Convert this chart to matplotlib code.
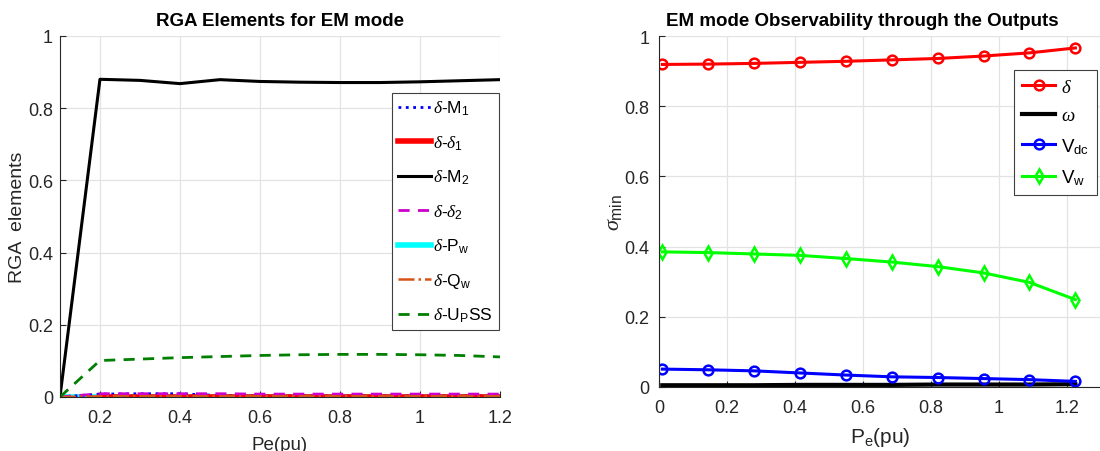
import matplotlib
matplotlib.use("Agg")
import matplotlib.pyplot as plt

plt.rcParams["font.family"] = ["Liberation Sans", "DejaVu Sans"]
plt.rcParams["mathtext.fontset"] = "custom"
plt.rcParams["mathtext.rm"] = "Liberation Sans"
plt.rcParams["mathtext.it"] = "Liberation Serif:italic"
plt.rcParams["mathtext.bf"] = "Liberation Sans:bold"

# ---------------------------------------------------------------------------
# RGA elements (left panel)
# ---------------------------------------------------------------------------
pe_rga = [0.1, 0.2, 0.3, 0.4, 0.5, 0.6, 0.7, 0.8, 0.9, 1.0, 1.1, 1.2]
rga_m1 = [0.0, 0.008, 0.009, 0.009, 0.004, 0.003, 0.003, 0.003, 0.003, 0.003, 0.003, 0.003]
rga_d1 = [None, 0.001, 0.001, 0.001, 0.001, 0.001, 0.001, 0.001, 0.001, 0.001, 0.001, 0.001]
rga_m2 = [0.0, 0.880, 0.877, 0.868, 0.879, 0.874, 0.872, 0.871, 0.871, 0.873, 0.876, 0.879]
rga_d2 = [0.0, 0.009, 0.009, 0.009, 0.009, 0.008, 0.008, 0.008, 0.008, 0.008, 0.008, 0.008]
rga_pw = [0.0, 0.0, 0.0, 0.0, 0.0, 0.0, 0.0, 0.0, 0.0, 0.0, 0.0, 0.0]
rga_qw = [0.0, 0.002, 0.002, 0.002, 0.002, 0.002, 0.002, 0.002, 0.002, 0.002, 0.002, 0.002]
rga_upss = [0.0, 0.101, 0.105, 0.109, 0.112, 0.115, 0.117, 0.118, 0.118, 0.117, 0.115, 0.111]

# ---------------------------------------------------------------------------
# Minimum singular value per output (right panel)
# ---------------------------------------------------------------------------
pe_obs = [0.01, 0.145, 0.28, 0.415, 0.55, 0.685, 0.82, 0.955, 1.09, 1.225]
sig_delta = [0.919, 0.920, 0.922, 0.925, 0.928, 0.932, 0.936, 0.943, 0.952, 0.966]
sig_omega = [0.005, 0.005, 0.005, 0.006, 0.006, 0.006, 0.007, 0.007, 0.007, 0.008]
sig_vdc = [0.051, 0.049, 0.046, 0.040, 0.034, 0.029, 0.027, 0.024, 0.021, 0.016]
sig_vw = [0.385, 0.383, 0.379, 0.375, 0.366, 0.356, 0.343, 0.325, 0.298, 0.249]

TXT = "#262626"
GRID = "#e3e3e3"


def style_axes(ax):
    ax.grid(True, color=GRID, linewidth=0.9)
    ax.set_axisbelow(True)
    for side in ("top", "right"):
        ax.spines[side].set_visible(False)
    for side in ("left", "bottom"):
        ax.spines[side].set_color(TXT)
        ax.spines[side].set_linewidth(0.8)
    ax.tick_params(direction="in", length=4, width=0.8, colors=TXT,
                   labelsize=13)
    ax.tick_params(axis="x", pad=9)
    ax.tick_params(axis="y", pad=5)


fig = plt.figure(figsize=(11, 4.52), dpi=100)

# left panel
ax1 = fig.add_axes([0.0545, 0.1195, 0.4, 0.7987])
ax1.plot(pe_rga, rga_m1, color="#0000ff", linestyle=":", linewidth=2, label=r"$\delta$-M$_1$")
ax1.plot(pe_rga, rga_pw, color="#00ffff", linewidth=4, label=r"$\delta$-P$_\mathrm{w}$", zorder=1.9)
ax1.plot(pe_rga, [v if v is not None else float("nan") for v in rga_d1],
         color="#ff0000", linewidth=4, label=r"$\delta$-$\delta_1$")
ax1.plot(pe_rga, rga_m2, color="black", linewidth=2.2, label=r"$\delta$-M$_2$")
ax1.plot(pe_rga, rga_d2, color="#cc00cc", linestyle=(0, (4, 3)), linewidth=2, label=r"$\delta$-$\delta_2$")
ax1.plot(pe_rga, rga_qw, color="#d95319", linestyle="-.", linewidth=1.8, label=r"$\delta$-Q$_\mathrm{w}$")
ax1.plot(pe_rga, rga_upss, color="#007f00", linestyle=(0, (4, 3)), linewidth=2,
         label=r"$\delta$-U$_\mathrm{P}$SS")
ax1.set_xlim(0.1, 1.2)
ax1.set_ylim(0, 1)
ax1.set_xticks([0.2, 0.4, 0.6, 0.8, 1.0, 1.2])
ax1.set_xticklabels(["0.2", "0.4", "0.6", "0.8", "1", "1.2"])
ax1.set_yticks([0, 0.2, 0.4, 0.6, 0.8, 1.0])
ax1.set_yticklabels(["0", "0.2", "0.4", "0.6", "0.8", "1"])
style_axes(ax1)
ax1.set_title("RGA Elements for EM mode", fontsize=13.5, fontweight="bold", pad=8)
ax1.set_xlabel("Pe(pu)", fontsize=13.5, color=TXT)
ax1.set_ylabel("RGA  elements", fontsize=14, color=TXT)
ax1.xaxis.set_label_coords(0.5, -0.108)
ax1.yaxis.set_label_coords(-0.078, 0.5)

h, l = ax1.get_legend_handles_labels()
order = [0, 2, 3, 4, 1, 5, 6]
leg1 = ax1.legend([h[i] for i in order], [l[i] for i in order],
                  loc="upper left", bbox_to_anchor=(0.7545, 0.842), borderaxespad=0,
                  fontsize=12.5, handlelength=1.9, handletextpad=0.12, labelspacing=0.92,
                  fancybox=False, framealpha=1, edgecolor="#404040", borderpad=0.35)
leg1.get_frame().set_linewidth(0.8)

# right panel
ax2 = fig.add_axes([0.599, 0.1416, 0.4018, 0.7765])
mk = dict(markersize=7, markerfacecolor="none", markeredgewidth=1.8)
ax2.plot(pe_obs, sig_delta, color="#ff0000", marker="o", linewidth=2.2, label=r"$\delta$", **mk)
ax2.plot(pe_obs, sig_omega, color="black", linewidth=3, label=r"$\omega$")
ax2.plot(pe_obs, sig_vdc, color="#0000ff", marker="o", linewidth=2.2, label=r"V$_\mathrm{dc}$", **mk)
ax2.plot(pe_obs, sig_vw, color="#00ff00", marker="d", linewidth=2.2, label=r"V$_\mathrm{w}$", **mk)
ax2.set_xlim(0, 1.3)
ax2.set_ylim(0, 1)
ax2.set_xticks([0, 0.2, 0.4, 0.6, 0.8, 1.0, 1.2])
ax2.set_xticklabels(["0", "0.2", "0.4", "0.6", "0.8", "1", "1.2"])
ax2.set_yticks([0, 0.2, 0.4, 0.6, 0.8, 1.0])
ax2.set_yticklabels(["0", "0.2", "0.4", "0.6", "0.8", "1"])
style_axes(ax2)
ax2.tick_params(axis="y", pad=7)
ax2.set_title("EM mode Observability through the Outputs", fontsize=13.5,
              fontweight="bold", pad=8, x=0.46)
ax2.set_xlabel(r"P$_\mathrm{e}$(pu)", fontsize=15, color=TXT)
ax2.set_ylabel(r"$\sigma_\mathrm{min}$", fontsize=16, color=TXT)
ax2.xaxis.set_label_coords(0.5, -0.108)
ax2.yaxis.set_label_coords(-0.08, 0.5)
leg2 = ax2.legend(loc="upper left", bbox_to_anchor=(0.803, 0.903), borderaxespad=0,
                  fontsize=13.5, handlelength=1.75, handletextpad=0.3, labelspacing=0.62,
                  fancybox=False, framealpha=1, edgecolor="#404040", borderpad=0.45)
leg2.get_frame().set_linewidth(0.8)

fig.savefig("out.png", dpi=100)
